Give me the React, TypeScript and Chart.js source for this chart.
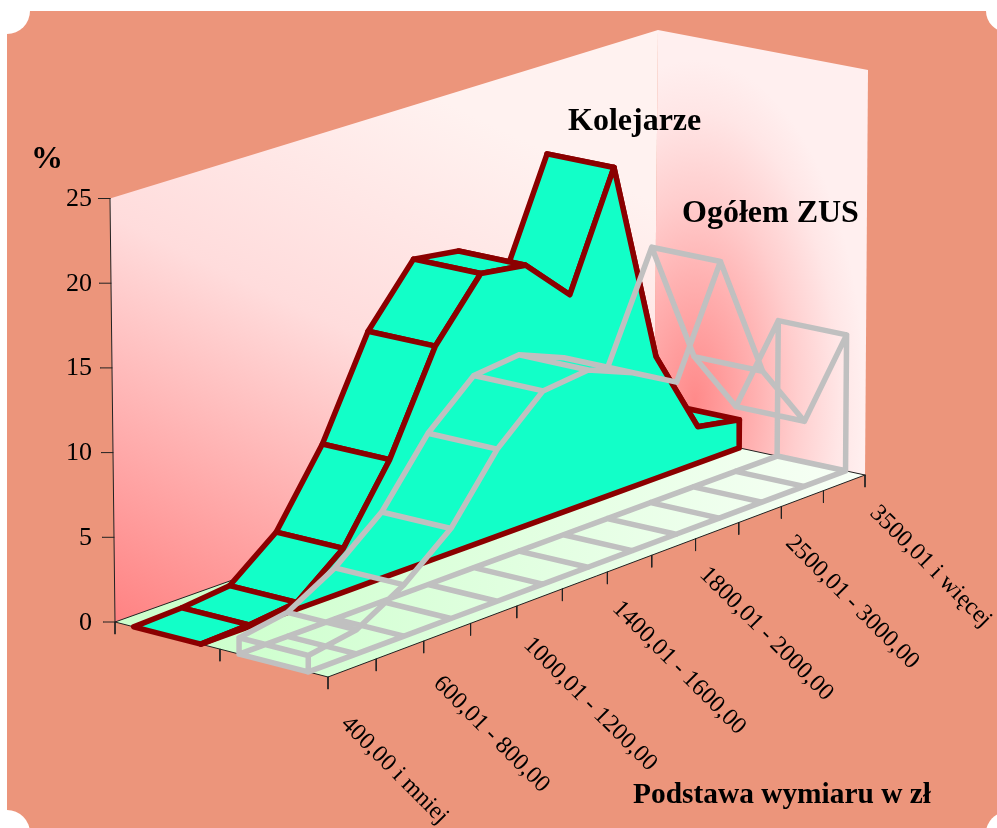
import React, { useEffect, useRef } from "react";
import { Chart, registerables } from "chart.js";

Chart.register(...registerables);

const categories = [
  "400,00 i mniej", "400,01 - 600,00", "600,01 - 800,00", "800,01 - 1000,00", "1000,01 - 1200,00",
  "1200,01 - 1400,00", "1400,01 - 1600,00", "1600,01 - 1800,00", "1800,01 - 2000,00", "2000,01 - 2500,00",
  "2500,01 - 3000,00", "3000,01 - 3500,00", "3500,01 i więcej",
];
const kolejarze = [0, 0.1, 0.4, 2.6, 6.9, 12.75, 16.2, 15.8, 13.1, 20.0, 7.5, 2.25, 1.75];
const ogolemZus = [0.95, 1.4, 3.0, 5.3, 9.0, 11.5, 11.8, 10.7, 9.2, 15.6, 8.0, 4.0, 8.4];
const yTicks = [0, 5, 10, 15, 20, 25];

const W = 997;
const H = 828;
const AREA_LEFT = 110;
const Y0 = 623;
const PX_PER = 16.96;
const FONT = '"Liberation Serif", serif';

type P = [number, number];
// Floor corners: A front-left, B front-right, C back-right, D back-left
const A: P = [328, 677];
const B: P = [865, 475];
const C: P = [654, 429.5];
const D: P = [115, 622];
// Pixel vector of a full 25 % height at those corners
const VA: P = [-1, -432];
const VB: P = [3, -405];
const VC: P = [4, -400];
const VD: P = [-5, -423.5];

const den = (B[0] - C[0]) * (D[1] - C[1]) - (D[0] - C[0]) * (B[1] - C[1]);
const sx = A[0] - B[0] + C[0] - D[0];
const sy = A[1] - B[1] + C[1] - D[1];
const g = (sx * (D[1] - C[1]) - (D[0] - C[0]) * sy) / den;
const h = ((B[0] - C[0]) * sy - sx * (B[1] - C[1])) / den;

const floorPt = (s: number, t: number): P => {
  const w = 1 + g * s + h * t;
  return [
    (A[0] + (B[0] - A[0] + g * B[0]) * s + (D[0] - A[0] + h * D[0]) * t) / w,
    (A[1] + (B[1] - A[1] + g * B[1]) * s + (D[1] - A[1] + h * D[1]) * t) / w,
  ];
};
const lerp = (a: number, b: number, k: number) => a + (b - a) * k;
const project = (u: number, t: number, v: number): P => {
  const s = u / 12;
  const f = floorPt(s, t);
  const vx = lerp(lerp(VA[0], VB[0], s), lerp(VD[0], VC[0], s), t);
  const vy = lerp(lerp(VA[1], VB[1], s), lerp(VD[1], VC[1], s), t);
  return [f[0] + (vx * v) / 25, f[1] + (vy * v) / 25];
};
const toData = (p: P) => ({ x: p[0], y: (Y0 - p[1]) / PX_PER });
const GAP = { x: NaN, y: NaN };

const Z_FRONT = 0.09, Z_BACK = 0.41, K_FRONT = 0.59, K_BACK = 0.91;
const DARKRED = "#8B0000";
const TEAL = "#12FFC8";
const GRAY = "#C0C0C0";

function line(points: any[], color: string, width: number, fill?: string) {
  return {
    data: points,
    showLine: true,
    borderColor: color,
    borderWidth: width,
    backgroundColor: fill ?? "transparent",
    fill: fill ? "shape" : false,
    pointRadius: 0,
    pointHoverRadius: 0,
    tension: 0,
    spanGaps: false,
    clip: false,
    borderJoinStyle: "round",
    borderCapStyle: "round",
  };
}

function buildDatasets() {
  const out: any[] = [];
  // frame lines and tick marks
  const frame: any[] = [];
  const seg = (a: P, b: P) => frame.push(toData(a), toData(b), GAP);
  seg(D, C); seg(C, B); seg(B, A); seg(A, D);
  seg(project(0, 1, 25), D);
  seg(D, [D[0], D[1] + 12]);
  yTicks.forEach((v) => {
    const p = project(0, 1, v);
    seg([p[0] - 12, p[1]], p);
  });
  categories.forEach((_, i) => {
    const p = project(i, 0, 0);
    seg(p, [p[0], p[1] + 12]);
  });
  const mid = project(0, 0.5, 0);
  seg(mid, [mid[0], mid[1] + 12]);
  out.push(line(frame, "#222222", 1));

  // Kolejarze ribbon, far segments first
  for (let i = kolejarze.length - 2; i >= 0; i--) {
    out.push(
      line(
        [
          project(i, K_FRONT, kolejarze[i]),
          project(i + 1, K_FRONT, kolejarze[i + 1]),
          project(i + 1, K_BACK, kolejarze[i + 1]),
          project(i, K_BACK, kolejarze[i]),
          project(i, K_FRONT, kolejarze[i]),
        ].map(toData),
        DARKRED, 5.5, TEAL
      )
    );
  }
  const front = kolejarze.map((v, i) => project(i, K_FRONT, v));
  const base = kolejarze.map((_, i) => project(i, K_FRONT, 0)).reverse();
  out.push(line([...front, ...base, front[0]].map(toData), DARKRED, 5.5, TEAL));

  // Ogółem ZUS wire ribbon
  const wire: any[] = [];
  const poly = (t: number, top: boolean) => {
    ogolemZus.forEach((v, i) => wire.push(toData(project(i, t, top ? v : 0))));
    wire.push(GAP);
  };
  poly(Z_BACK, false); poly(Z_FRONT, false); poly(Z_BACK, true); poly(Z_FRONT, true);
  ogolemZus.forEach((v, i) => {
    wire.push(toData(project(i, Z_BACK, 0)), toData(project(i, Z_FRONT, 0)), GAP);
    wire.push(toData(project(i, Z_BACK, v)), toData(project(i, Z_FRONT, v)), GAP);
  });
  [0, 12].forEach((i) => {
    const v = ogolemZus[i];
    wire.push(toData(project(i, Z_BACK, 0)), toData(project(i, Z_BACK, v)), GAP);
    wire.push(toData(project(i, Z_FRONT, 0)), toData(project(i, Z_FRONT, v)), GAP);
  });
  out.push(line(wire, GRAY, 5.5));
  out.forEach((d, idx) => (d.order = out.length - idx));
  return out;
}

const scenery = {
  id: "scenery",
  beforeDraw(chart: any) {
    const ctx: CanvasRenderingContext2D = chart.ctx;
    const sxp = (p: P) => [chart.scales.x.getPixelForValue(toData(p).x), chart.scales.y.getPixelForValue(toData(p).y)];
    const path = (pts: P[]) => {
      ctx.beginPath();
      pts.forEach((p, i) => {
        const [x, y] = sxp(p);
        i ? ctx.lineTo(x, y) : ctx.moveTo(x, y);
      });
      ctx.closePath();
    };
    ctx.save();
    ctx.fillStyle = "#fff";
    ctx.fillRect(0, 0, W, H);
    ctx.fillStyle = "#EC957B";
    ctx.fillRect(7, 11, W - 7, H - 11);
    ctx.fillStyle = "#fff";
    ([[7, 11, 23], [1007, 11, 21], [7, 833, 23], [1007, 833, 21]] as number[][]).forEach(([x, y, r]) => {
      ctx.beginPath();
      ctx.arc(x, y, r, 0, Math.PI * 2);
      ctx.fill();
    });

    const topD = project(0, 1, 25);
    const topC: P = [658, 30];
    const topB: P = [868, 70];
    // left wall
    path([D, topD, topC, C]);
    const lg = ctx.createLinearGradient(130, 640, 400, 80);
    lg.addColorStop(0, "#ff8080");
    lg.addColorStop(0.6, "#ffdcdc");
    lg.addColorStop(1, "#fff2f0");
    ctx.fillStyle = lg;
    ctx.fill();
    // right wall
    ctx.save();
    path([C, topC, topB, B]);
    ctx.clip();
    ctx.translate(695, 400);
    ctx.scale(1, 2);
    const rg = ctx.createRadialGradient(0, 0, 0, 0, 0, 170);
    rg.addColorStop(0, "#ff8a8a");
    rg.addColorStop(0.35, "#ffb0b0");
    rg.addColorStop(0.6, "#ffcece");
    rg.addColorStop(0.85, "#ffe6e6");
    rg.addColorStop(1, "#ffefef");
    ctx.fillStyle = rg;
    ctx.fillRect(-300, -300, 700, 600);
    ctx.restore();
    // floor
    path([A, B, C, D]);
    const fg = ctx.createLinearGradient(200, 0, 860, 0);
    fg.addColorStop(0, "#ccffcc");
    fg.addColorStop(1, "#f8fff6");
    ctx.fillStyle = fg;
    ctx.fill();
    ctx.restore();
  },
  afterDraw(chart: any) {
    const ctx: CanvasRenderingContext2D = chart.ctx;
    ctx.save();
    ctx.fillStyle = "#000";
    ctx.textBaseline = "alphabetic";
    ctx.textAlign = "left";
    ctx.font = `bold 32px ${FONT}`;
    ctx.fillText("Kolejarze", 568, 130);
    ctx.fillText("Ogółem ZUS", 682, 222);
    ctx.fillText("%", 31, 168);
    ctx.font = `bold 29.4px ${FONT}`;
    ctx.fillText("Podstawa wymiaru w zł", 633, 803);
    ctx.font = `24.3px ${FONT}`;
    categories.forEach((label, i) => {
      if (i % 2) return;
      const p = project(i, 0, 0);
      const bump = Math.sin((Math.PI * i) / 12);
      ctx.save();
      ctx.translate(p[0] + 12 - (8 * i) / 12 - 4 * bump, p[1] + 48 - (9 * i) / 12 - 6 * bump);
      ctx.rotate(Math.PI / 4);
      ctx.fillText(label, 0, 0);
      ctx.restore();
    });
    ctx.restore();
  },
};

export default function App() {
  const ref = useRef<HTMLCanvasElement>(null);
  useEffect(() => {
    const chart = new Chart(ref.current as HTMLCanvasElement, {
      type: "scatter",
      data: { datasets: buildDatasets() as any },
      plugins: [scenery as any],
      options: {
        animation: false,
        responsive: false,
        layout: { padding: 0 },
        plugins: {
          legend: { display: false },
          tooltip: { enabled: false },
          filler: { drawTime: "beforeDatasetDraw" } as any,
        },
        events: [],
        scales: {
          x: { type: "linear", display: false, min: AREA_LEFT, max: W },
          y: {
            type: "linear",
            min: (Y0 - H) / PX_PER,
            max: Y0 / PX_PER,
            grid: { display: false, drawTicks: false },
            border: { display: false },
            afterBuildTicks: (s: any) => {
              s.ticks = yTicks.map((value) => ({ value }));
            },
            afterFit: (s: any) => {
              s.width = AREA_LEFT;
              s.paddingTop = 0;
              s.paddingBottom = 0;
            },
            ticks: {
              color: "#000",
              padding: 18,
              autoSkip: false,
              font: { family: FONT, size: 26 },
            },
          },
        },
      } as any,
    });
    return () => chart.destroy();
  }, []);
  return (
    <div style={{ position: "fixed", left: 0, top: 0, width: W, height: H }}>
      <canvas ref={ref} width={W} height={H} style={{ display: "block" }} />
    </div>
  );
}
